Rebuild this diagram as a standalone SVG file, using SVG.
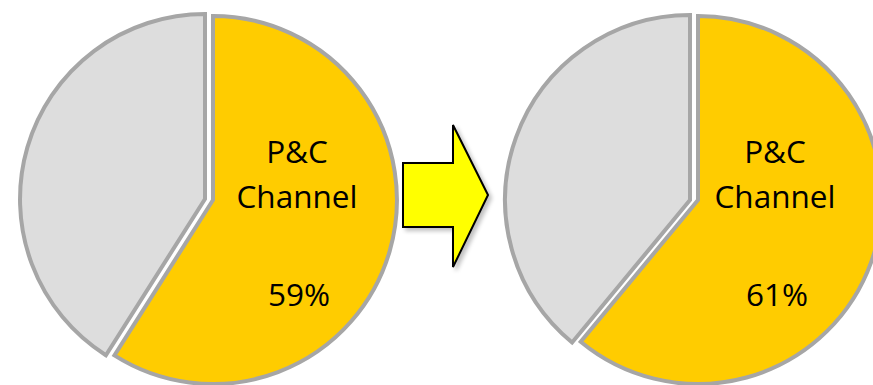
<svg xmlns="http://www.w3.org/2000/svg" width="873" height="385" viewBox="0 0 873 385">
<style>
.gray{fill:#dddddd;stroke:#a6a6a6;stroke-width:4;stroke-linejoin:miter}
.yel{fill:#ffcc00;stroke:#a6a6a6;stroke-width:4;stroke-linejoin:miter}
.lbl{font-family:"Open Sans","Liberation Sans",Arial,sans-serif;font-size:31.5px;fill:#000;text-anchor:middle}
</style>
<defs>
<filter id="sh" x="-20%" y="-20%" width="150%" height="150%">
<feGaussianBlur in="SourceAlpha" stdDeviation="2"/>
<feOffset dx="3" dy="3" result="b"/>
<feComponentTransfer><feFuncA type="linear" slope="0.25"/></feComponentTransfer>
<feMerge><feMergeNode/><feMergeNode in="SourceGraphic"/></feMerge>
</filter>
</defs>
<g id="pie-before">
<path class="gray" d="M205,199 L105.9,355.2 A185,185 0 0 1 205,14 Z"/>
<path class="yel" d="M213,200 L213,16 A184,184 0 1 1 114.4,355.4 Z"/>
<text class="lbl" x="297" y="163">P&amp;C</text>
<text class="lbl" x="297" y="208">Channel</text>
<text class="lbl" x="299" y="306">59%</text>
</g>
<g id="connectors">
<polygon points="403,163 453,163 453,125 488,195 453,267 453,227 403,227" fill="#ffff00" stroke="#000" stroke-width="2" stroke-linejoin="miter" filter="url(#sh)"/>
</g>
<g id="pie-after">
<path class="gray" d="M690,200 L572.1,342.5 A185,185 0 0 1 690,15 Z"/>
<path class="yel" d="M698,200 L698,16 A184,184 0 1 1 580.7,341.8 Z"/>
<text class="lbl" x="775" y="163">P&amp;C</text>
<text class="lbl" x="775" y="208">Channel</text>
<text class="lbl" x="777" y="306">61%</text>
</g>
</svg>
